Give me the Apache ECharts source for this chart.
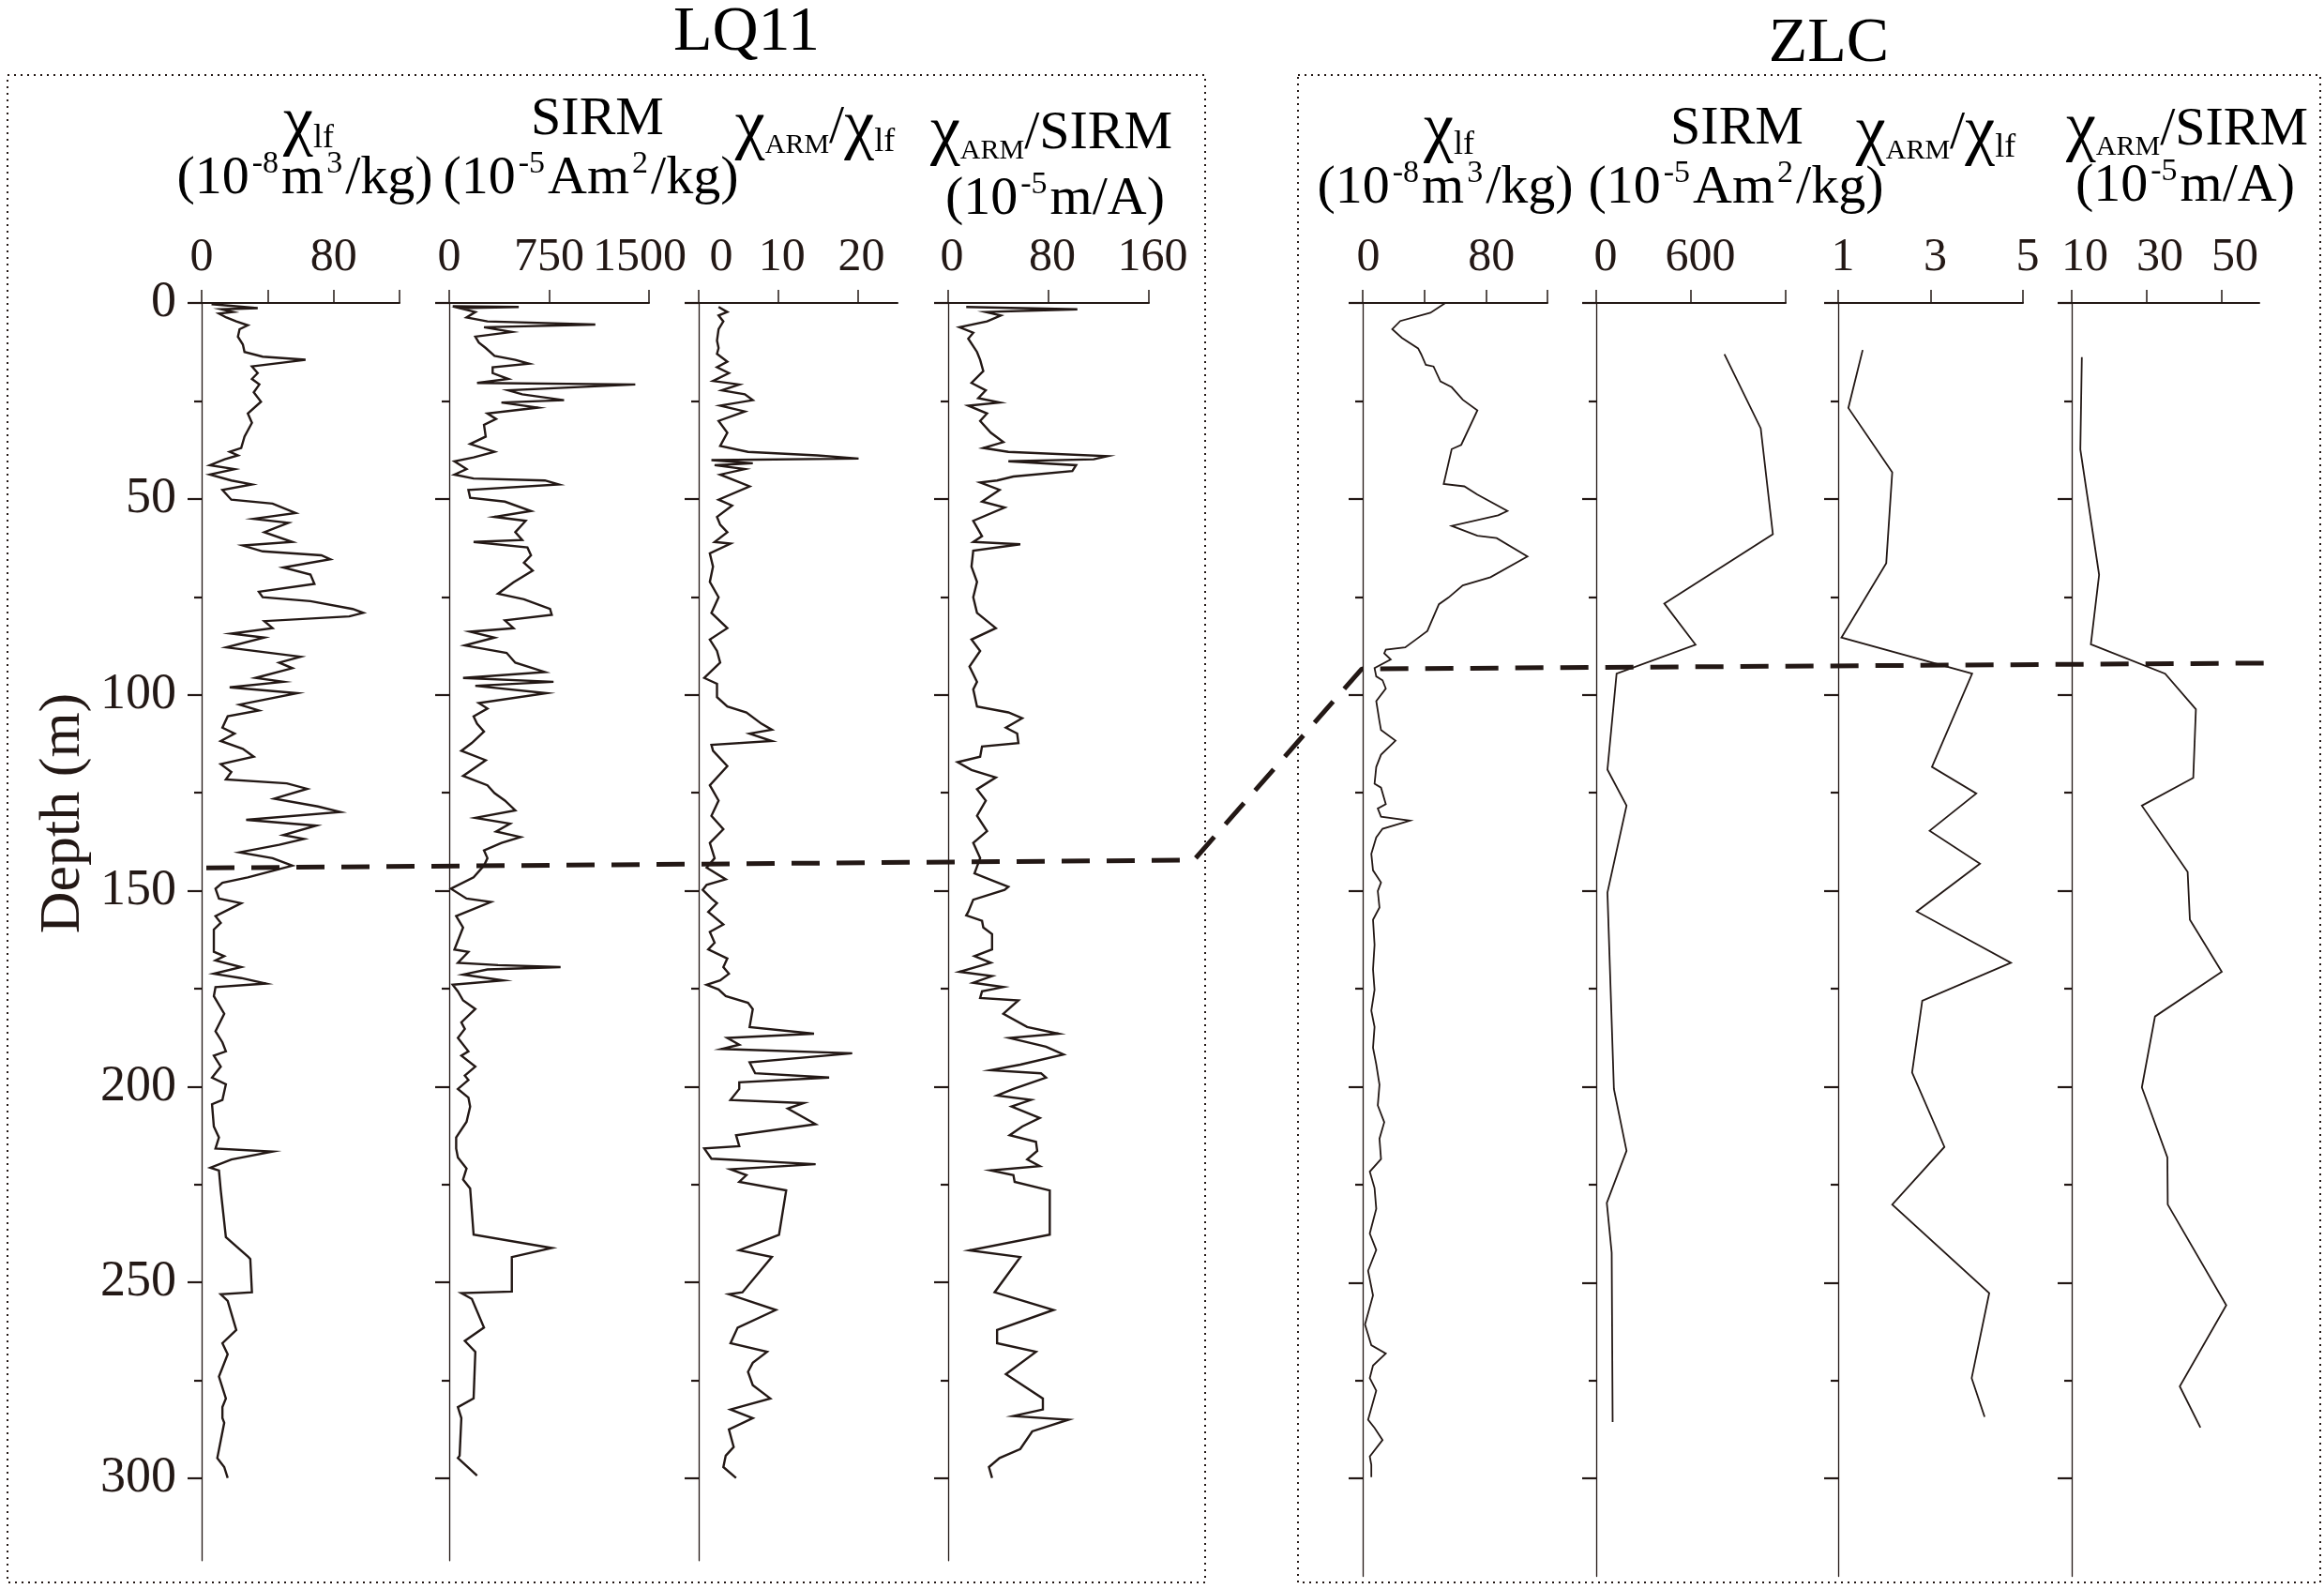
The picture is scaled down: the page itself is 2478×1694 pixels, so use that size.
<!DOCTYPE html>
<html>
<head>
<meta charset="utf-8">
<script src="https://cdn.jsdelivr.net/npm/echarts@6/dist/echarts.min.js"></script>
<style>
  html, body { margin: 0; padding: 0; background: #fff; }
  #chart { width: 2478px; height: 1694px; }
</style>
</head>
<body>
<div id="chart"></div>
<script>
// ---- data: [depth (m), value] ----
const lq11Chi = [[0.3,6],[1.3,34],[1.6,12],[2.3,19],[2.7,10.5],[3.7,15],[4.7,21],[5.7,28],[6.7,23],[8.6,22],[10.6,25],[12.5,26],[13.7,37],[14.5,63],[16.2,30.5],[17.9,34],[19.4,30.5],[20.8,35],[22.8,31.6],[25.2,36],[28.2,28],[30.6,30.5],[34.1,26],[37,24],[38,17],[38.9,22],[39.9,14],[41.4,5],[42.4,20],[43.8,5],[45.3,18],[46.3,30.5],[47.7,12.6],[50.2,18],[51.2,43],[53.6,57],[55.1,31.6],[56.1,52.6],[58.5,38],[61,55],[61.9,25],[63.4,37],[64.4,72.6],[65.4,78],[67.5,49.5],[69.3,66],[71.7,68.4],[73.7,34.7],[75.1,37],[76.1,66],[78.1,91.6],[79.1,98],[80,89.5],[81.2,38],[83,43],[84.4,18],[85.4,38],[87.9,15],[90.3,60],[91.8,47],[93.2,55],[95.7,32.6],[96.7,49.5],[98.1,17],[99.6,58],[102.5,23],[104,34.7],[105.5,15.8],[108.4,12.6],[109.9,20],[111.8,11.6],[113.8,25],[115.8,31.6],[117.7,11.6],[119.7,18],[121.6,14.7],[122.6,51.6],[124,64],[126.5,44],[128.5,70.5],[129.9,84],[131.9,27],[133.4,69.5],[135.8,49.5],[136.8,62],[138.3,47],[140.2,23],[141.7,43],[143.6,55],[146.6,28],[148,12.6],[149.5,8.4],[152,10.5],[153.2,24],[156.5,8.4],[158.2,11.6],[159.9,7.4],[165.6,7.4],[166.7,13.7],[167.8,8.4],[169.5,24],[171.2,7.4],[172.3,24],[173.7,39],[174.6,8.4],[176.9,7.4],[181.4,13.7],[185.9,8.4],[188.7,12.6],[191,14.7],[192.1,7.4],[194.9,11.6],[197.7,6.3],[199.4,14.7],[203.4,12.6],[204.5,6.3],[210.2,7.4],[213,10.5],[215.8,8.4],[216.6,43],[218.6,18],[220.7,5.3],[221.4,10.5],[226.5,11.6],[238.4,14.7],[243.5,28.4],[244,29.5],[252.5,30.5],[253,11.6],[254.7,15.8],[262.1,21],[265.5,12.6],[268.3,15.8],[274,10.5],[279.6,14.7],[281.8,12.6],[284.6,12.6],[285.8,13.7],[294.8,9.5],[297.1,13.7],[299.9,15.8]];

const lq11Sirm = [[0.8,26],[1,522],[1.3,78],[2.3,196],[3.7,130],[4.7,287],[5.5,1097],[6.2,261],[7.4,470],[8.6,196],[10.1,222],[11.5,274],[13.5,340],[14.5,496],[15.5,600],[16.4,326],[17.9,326],[19.4,444],[20.4,209],[20.8,1397],[22.3,444],[23.3,548],[24.8,862],[25.4,392],[26.7,666],[28.2,287],[29.6,352],[31.1,261],[34.1,274],[36,157],[38,340],[39.4,183],[40.4,39],[42.4,130],[43.8,39],[44.8,183],[45.3,718],[46.3,822],[47.7,144],[49.7,157],[50.7,418],[53.1,614],[54.6,340],[55.6,574],[58.5,496],[60.5,548],[61,183],[62.4,587],[64.4,614],[66.3,561],[68.3,627],[71.3,483],[74.2,366],[75.6,561],[78.1,757],[79.6,770],[81,418],[83,483],[83.9,157],[85.4,340],[87.4,117],[89.3,431],[91.8,496],[94.2,718],[95.7,104],[96.7,783],[97.7,196],[99.6,731],[102.1,222],[103.5,287],[105.5,183],[107.4,209],[109.4,261],[112.3,170],[114.3,91],[116.7,274],[120.7,104],[123.1,287],[125.1,340],[127,418],[129.5,496],[131.4,196],[132.9,457],[134.9,352],[136.3,535],[137.8,392],[139.7,261],[141.7,287],[143.6,261],[146.6,183],[149.5,13],[152,130],[152.9,313],[156.5,52],[159.4,104],[165,39],[165.6,144],[168.4,65],[169,366],[169.5,836],[170.1,287],[171.4,104],[172.9,405],[174,26],[175.7,65],[178,104],[180.2,196],[183.6,91],[185.3,117],[187.6,65],[191,144],[192.1,91],[194.9,196],[197.2,117],[198.3,144],[200.6,65],[202.8,144],[205.1,157],[209,130],[213,52],[215.8,52],[218.1,65],[220.9,130],[223.7,104],[226,157],[237.8,183],[241.2,770],[243.5,470],[252.3,470],[252.7,91],[254.2,170],[261.5,261],[264.9,117],[267.7,196],[279.6,183],[281.8,65],[284.6,91],[294.2,78],[294.8,65],[299.3,209]];

const lq11ArmChi = [[1,2.5],[2.3,3.6],[3.2,2.5],[4.7,3.1],[6.7,2.5],[9.6,2.3],[11.5,2.5],[13,2.3],[15,3.6],[16.4,2.3],[17.9,3.8],[19.9,1.8],[20.8,5.1],[22.3,2.9],[23.3,5.8],[24.8,6.8],[26.2,2.7],[27.7,5.8],[30.1,2.5],[33.1,3.6],[36.5,2.7],[38,6.2],[38.9,14.9],[39.7,20.1],[40.1,1.6],[40.9,6.8],[41.4,2],[42.4,5.8],[43.8,2.7],[46.8,6.4],[50.2,2.5],[51.7,4.2],[54.6,2.3],[56.6,2.7],[58.5,3.6],[61,2],[61.4,4],[63.9,1.4],[67.3,1.8],[71.2,1.4],[75.1,2.5],[79.1,1.6],[83,3.6],[85.9,1.4],[88.8,2.3],[91.8,2.7],[95.7,0.7],[97.2,2.3],[100.6,2.3],[103,3.6],[104.5,6],[107.4,7.9],[108.9,9.2],[109.9,6.4],[111.8,9.2],[112.8,1.6],[114.3,1.8],[118.2,3.6],[123.1,1.4],[127,2.5],[130.9,1.6],[134.3,3.1],[137.8,1.4],[141.7,2],[144.1,1],[147.1,3.4],[148.5,1],[149.8,0.5],[152,1.6],[153.2,2.3],[155.4,1.2],[158.6,3.1],[160.5,1.4],[163.3,2],[165,1.2],[167.3,3.6],[169.5,3.1],[171.2,3.8],[172.9,2.7],[174,1],[175.2,2.5],[176.9,3.4],[178.6,6.2],[180.2,6.8],[184.8,6.4],[186.5,14.5],[187.6,3.6],[189.3,5.1],[190.4,2.9],[191.5,19.3],[193.8,6.4],[196.6,7.1],[197.7,16.4],[198.9,5.1],[200.6,5.1],[203.4,4],[204.2,13.2],[205.6,11.2],[209.6,14.7],[212.4,4.7],[215.2,5.1],[215.8,0.7],[218.4,1.6],[219.8,14.7],[221.1,4],[222.6,6],[224.3,5.1],[226.5,11],[237.8,10.1],[241.8,5.1],[243.5,9.2],[252.5,5.5],[253,3.8],[257,9.7],[261.5,4.9],[265.5,4],[267.7,8.6],[270.5,6.8],[272.8,6.2],[276.2,6.8],[279.6,9],[282.4,4],[284.6,6.8],[287.5,3.8],[292,4.4],[294.2,3.4],[297.1,3.1],[299.9,4.7]];

const lq11ArmSirm = [[1,14.4],[1.6,103],[2.3,30],[3.2,42],[4.7,31],[6.2,9],[7.6,20],[9.1,16],[12.5,23],[14.5,25.5],[17.4,28],[20.4,18.6],[22.3,30],[24.3,24],[25.4,41],[26.2,16],[28.2,31],[30.1,25.5],[33.1,34],[35.5,44],[37,28],[38,48],[39.1,127],[39.9,116],[40.4,48],[41.4,102],[42.9,99],[44.3,52],[45.3,39],[45.8,25.5],[47.7,41],[50.7,27],[52.2,45],[55.6,20],[59.5,27],[61,20],[61.6,57.5],[63.2,20],[67.3,18.6],[71.2,23],[75.1,20],[79.1,23],[83,38],[85.9,18.6],[88.8,25.5],[92.8,17],[96.7,23],[98.6,20],[103,23],[104.5,48],[106,59],[108.4,46],[109.9,55],[112.3,56],[113.2,27],[115.8,25.5],[117.2,7.5],[119.2,18.6],[121.1,38],[124.1,23],[127,30],[130.9,23],[134.8,31],[137.8,20],[141.7,25.5],[145.6,21],[147.6,37],[149,48],[149.8,45],[152.3,20],[155.4,16],[156.3,14.4],[157.7,27],[159.4,28],[161.1,35],[165,35],[166.7,21],[168.4,34],[170.7,9],[171.8,35],[173.5,20],[174.6,44],[175.7,27],[177.4,25.5],[178,56],[181.4,44],[184.8,63],[186.5,88],[187.6,49],[189.8,78],[191.8,92],[194.4,57.5],[195.8,34],[196.6,74],[197.7,78],[200.6,52],[202.3,39],[203.4,66],[205.1,50.5],[208,73],[210.2,59],[212.4,49],[214.1,70],[216.4,71],[218.6,63],[220.3,73],[221.4,34],[222.6,52],[224.3,53],[226.5,81],[237.8,81],[241.8,17],[243.5,57.5],[252.5,37],[257,84],[262.1,39],[265.5,39],[267.7,70],[273.4,46],[279.6,75.5],[282.4,75.5],[284.1,52],[285,96],[288,67],[292.5,57.5],[294.8,41],[297.1,32.5],[299.9,35]];

const zlcChi = [[0,53.7],[2.5,44],[4.6,24.4],[6.7,19.2],[8.9,25.5],[11.6,36],[13.1,38],[15.8,41],[16.2,46],[20,50.5],[21.5,57.8],[24.7,65],[27.4,74.5],[36.2,64],[37.3,57.8],[46.2,52.6],[46.8,66],[48.9,74.5],[53.1,94],[54.2,88],[56.9,57.8],[59.4,74.5],[60,87],[64.7,107],[70,83],[72.1,65],[75.2,55.7],[76.9,49.5],[83.7,42],[85.8,34.9],[87.9,27.6],[88.5,15],[89.4,14],[91,18.2],[93.2,7.7],[95.3,8.8],[96.3,12.9],[98.4,15],[101.6,8.8],[106.8,10.9],[109,11.9],[111.7,21.3],[115.3,11.9],[118.4,8.8],[122.7,7.7],[123.7,11.9],[127.9,15],[129,9.8],[131.1,11.9],[132.1,30.7],[134.2,12.9],[136.4,8.8],[140.6,5.6],[144.8,6.7],[147.9,11.9],[150.1,9.8],[154.3,10.9],[157.4,6.7],[163.8,7.7],[170.1,6.7],[175.3,7.7],[180.6,5.6],[184.8,7.7],[190.1,6.7],[194.3,8.8],[199.5,10.9],[204.8,9.8],[209.1,14],[213.3,10.9],[218.5,11.9],[221.7,4.6],[225.9,7.7],[231.2,8.8],[237.5,4.6],[241.7,8.8],[247,3.5],[253.3,6.7],[260.7,1.5],[266,5.6],[268.1,15],[271.2,6.7],[274.4,4.6],[277.6,8.8],[285,3.5],[287.1,7.7],[290.2,12.9],[294.4,4.6],[296.5,5.6],[299.7,5.6]];

const zlcSirm = [[13.1,812],[32,1042],[59,1119],[76.7,431],[87.2,629],[94.6,129],[119.1,71],[128.3,192],[150.5,71],[200.6,112],[216.4,192],[229.7,67],[242.4,98],[285.6,104]];

const zlcArmChi = [[12,1.53],[26.8,1.22],[43.2,2.17],[66.4,2.04],[85.4,1.07],[94.6,3.9],[118.4,3.03],[125.2,3.99],[134.7,2.98],[143.1,4.07],[155.3,2.7],[168.4,4.74],[178.1,2.82],[196.4,2.6],[215.4,3.3],[230.1,2.17],[252.7,4.27],[274.4,3.89],[284.3,4.17]];

const zlcArmSirm = [[13.8,12.7],[37.4,12.3],[69.4,17.3],[87.1,15.1],[94.6,34.9],[103.7,43.1],[121.2,42.4],[128.3,28.7],[145.2,40.9],[157.4,41.5],[170.7,50],[182.1,32.2],[200.2,28.7],[218.1,35.5],[230.1,35.6],[255.8,51.2],[276.5,38.8],[287,44.3]];

// correlation boundary: depth where it crosses each part of the figure
const boundaryDepth = [144.2, 142.2, 93.4, 91.9];
const boundaryX = [220, 1273, 1452, 2417];

const depthTicks = [0, 50, 100, 150, 200, 250, 300];
const depthMinorTicks = [25, 75, 125, 175, 225, 275];

// ---- layout ----
const C = '#231815';
const F = '"Liberation Serif", "Times New Roman", serif';
const TOP = 323;
const PX_PER_M = 4.177;

// nudge: horizontal shift (px) of single tick labels, as in the original artwork
const panels = [
  { data: lq11Chi,     left: 215,  width: 211, min: 0,  max: 120,  ticks: [0, 40, 80, 120], labels: [0, 80],        depthMax: 321, depthLabels: true,  lw: 2.4, shift: 0,  nudge: {} },
  { data: lq11Sirm,    left: 479,  width: 213, min: 0,  max: 1500, ticks: [0, 750, 1500],   labels: [0, 750, 1500], depthMax: 321, depthLabels: false, lw: 2.4, shift: 0,  nudge: { 1500: -10 } },
  { data: lq11ArmChi,  left: 745,  width: 212, min: 0,  max: 25,   ticks: [0, 10, 20],      labels: [0, 10, 20],    depthMax: 321, depthLabels: false, lw: 2.4, shift: 4,  nudge: { 0: 20 } },
  { data: lq11ArmSirm, left: 1011, width: 214, min: 0,  max: 160,  ticks: [0, 80, 160],     labels: [0, 80, 160],   depthMax: 321, depthLabels: false, lw: 2.4, shift: 4,  nudge: {} },
  { data: zlcChi,      left: 1453, width: 197, min: 0,  max: 120,  ticks: [0, 40, 80, 120], labels: [0, 80],        depthMax: 325, depthLabels: false, lw: 1.8, shift: 6,  nudge: {} },
  { data: zlcSirm,     left: 1702, width: 202, min: 0,  max: 1200, ticks: [0, 600, 1200],   labels: [0, 600],       depthMax: 325, depthLabels: false, lw: 1.8, shift: 10, nudge: {} },
  { data: zlcArmChi,   left: 1960, width: 197, min: 1,  max: 5,    ticks: [1, 3, 5],        labels: [1, 3, 5],      depthMax: 325, depthLabels: false, lw: 1.8, shift: 5,  nudge: {} },
  { data: zlcArmSirm,  left: 2209, width: 200, min: 10, max: 60,   ticks: [10, 30, 50],     labels: [10, 30, 50],   depthMax: 325, depthLabels: false, lw: 1.8, shift: 14, nudge: {} }
];

const grid = [], xAxis = [], yAxis = [], series = [];

panels.forEach(function (p, i) {
  const labelRich = {};
  p.labels.forEach(function (v, k) {
    const s = p.shift + (p.nudge[v] || 0);
    labelRich['v' + k] = { fontSize: 50, fontFamily: F, color: C,
      padding: s >= 0 ? [0, 0, 0, 2 * s] : [0, -2 * s, 0, 0] };
  });
  grid.push({ left: p.left, top: TOP, width: p.width, height: p.depthMax * PX_PER_M });
  xAxis.push({
    gridIndex: i, type: 'value', position: 'top', min: p.min, max: p.max,
    axisLine: { show: true, onZero: false, lineStyle: { color: C, width: 2 } },
    axisTick: { show: true, customValues: p.ticks, length: 14, lineStyle: { color: C, width: 1.5 } },
    axisLabel: {
      customValues: p.labels, fontSize: 50, fontFamily: F, color: C, margin: 23,
      formatter: function (v) { return '{v' + p.labels.indexOf(v) + '|' + v + '}'; },
      rich: labelRich
    },
    splitLine: { show: false }
  });
  // major depth ticks (and labels on the first track)
  yAxis.push({
    gridIndex: i, type: 'value', position: 'left', inverse: true, min: 0, max: p.depthMax,
    axisLine: { show: true, onZero: false, lineStyle: { color: C, width: 1.3 } },
    axisTick: { show: true, customValues: depthTicks, length: 15, lineStyle: { color: C, width: 2.2 } },
    axisLabel: { show: p.depthLabels, customValues: depthTicks, fontSize: 54, fontFamily: F, color: C, margin: 27 },
    splitLine: { show: false }
  });
  // minor depth ticks every 25 m
  yAxis.push({
    gridIndex: i, type: 'value', position: 'left', inverse: true, min: 0, max: p.depthMax,
    axisLine: { show: false },
    axisTick: { show: true, customValues: depthMinorTicks, length: 8, lineStyle: { color: C, width: 2.2 } },
    axisLabel: { show: false },
    splitLine: { show: false }
  });
  series.push({
    type: 'line', xAxisIndex: i, yAxisIndex: 2 * i,
    data: p.data.map(function (d) { return [d[1], d[0]]; }),
    showSymbol: false, symbol: 'none',
    lineStyle: { color: C, width: p.lw, join: 'miter' },
    z: 3
  });
});

// overlay for the dashed correlation line (x in figure pixels, y in depth)
grid.push({ left: 0, top: TOP, width: 2478, height: 321 * PX_PER_M });
xAxis.push({ gridIndex: 8, type: 'value', min: 0, max: 2478, show: false });
yAxis.push({ gridIndex: 8, type: 'value', inverse: true, min: 0, max: 321, show: false });
series.push({
  type: 'line', xAxisIndex: 8, yAxisIndex: 16,
  data: boundaryX.map(function (x, k) { return [x, boundaryDepth[k]]; }),
  showSymbol: false, symbol: 'none', clip: false,
  lineStyle: { color: C, width: 5, type: [30, 18], cap: 'butt' },
  z: 5
});

// ---- text ----
const rich = {
  t: { fontSize: 68, fontFamily: F, color: C, lineHeight: 76 },
  m: { fontSize: 58, fontFamily: F, color: C, lineHeight: 66 },
  c: { fontSize: 72, fontFamily: F, color: C, lineHeight: 66 },
  s: { fontSize: 36, fontFamily: F, color: C, lineHeight: 30, verticalAlign: 'bottom' },
  a: { fontSize: 30, fontFamily: F, color: C, lineHeight: 24, verticalAlign: 'bottom' },
  p: { fontSize: 34, fontFamily: F, color: C, lineHeight: 40, verticalAlign: 'top', padding: [0, 3, 0, 3] }
};

const chiLf = '{c|χ}{s|lf}';
const chiLfUnit = '{m|(10}{p|-8}{m|m}{p|3}{m|/kg)}';
const sirm = '{m|SIRM}';
const sirmUnit = '{m|(10}{p|-5}{m|Am}{p|2}{m|/kg)}';
const armChi = '{c|χ}{a|ARM}{m|/}{c|χ}{s|lf}';
const armSirm = '{c|χ}{a|ARM}{m|/SIRM}';
const armSirmUnit = '{m|(10}{p|-5}{m|m/A)}';

// [centre x, bottom y, text]
const headers = [
  [796, 73, '{t|LQ11}'],
  [1950, 85, '{t|ZLC}'],
  [329, 166, chiLf], [325, 224, chiLfUnit],
  [637, 161, sirm], [630, 224, sirmUnit],
  [869, 170, armChi],
  [1121, 176, armSirm], [1125, 246, armSirmUnit],
  [1545, 173, chiLf], [1541, 234, chiLfUnit],
  [1852, 171, sirm], [1851, 234, sirmUnit],
  [2064, 176, armChi],
  [2332, 172, armSirm], [2330, 232, armSirmUnit]
];

const graphic = headers.map(function (h) {
  return { type: 'text', x: h[0], y: h[1], z: 10,
    style: { text: h[2], rich: rich, align: 'center', verticalAlign: 'bottom' } };
});

graphic.push({ type: 'text', x: 68, y: 867, rotation: Math.PI / 2, z: 10,
  style: { text: 'Depth (m)', fontSize: 62, fontFamily: F, fill: C, align: 'center', verticalAlign: 'middle' } });

// dotted frames round the two sections
graphic.push({ type: 'rect', z: 1, shape: { x: 8, y: 80, width: 1277, height: 1607 },
  style: { fill: 'none', stroke: C, lineWidth: 2, lineDash: [2, 5] } });
graphic.push({ type: 'rect', z: 1, shape: { x: 1384, y: 80, width: 1090, height: 1607 },
  style: { fill: 'none', stroke: C, lineWidth: 2, lineDash: [2, 5] } });

const chart = echarts.init(document.getElementById('chart'));
chart.setOption({
  animation: false,
  backgroundColor: '#fff',
  grid: grid,
  xAxis: xAxis,
  yAxis: yAxis,
  series: series,
  graphic: graphic
});
</script>
</body>
</html>
